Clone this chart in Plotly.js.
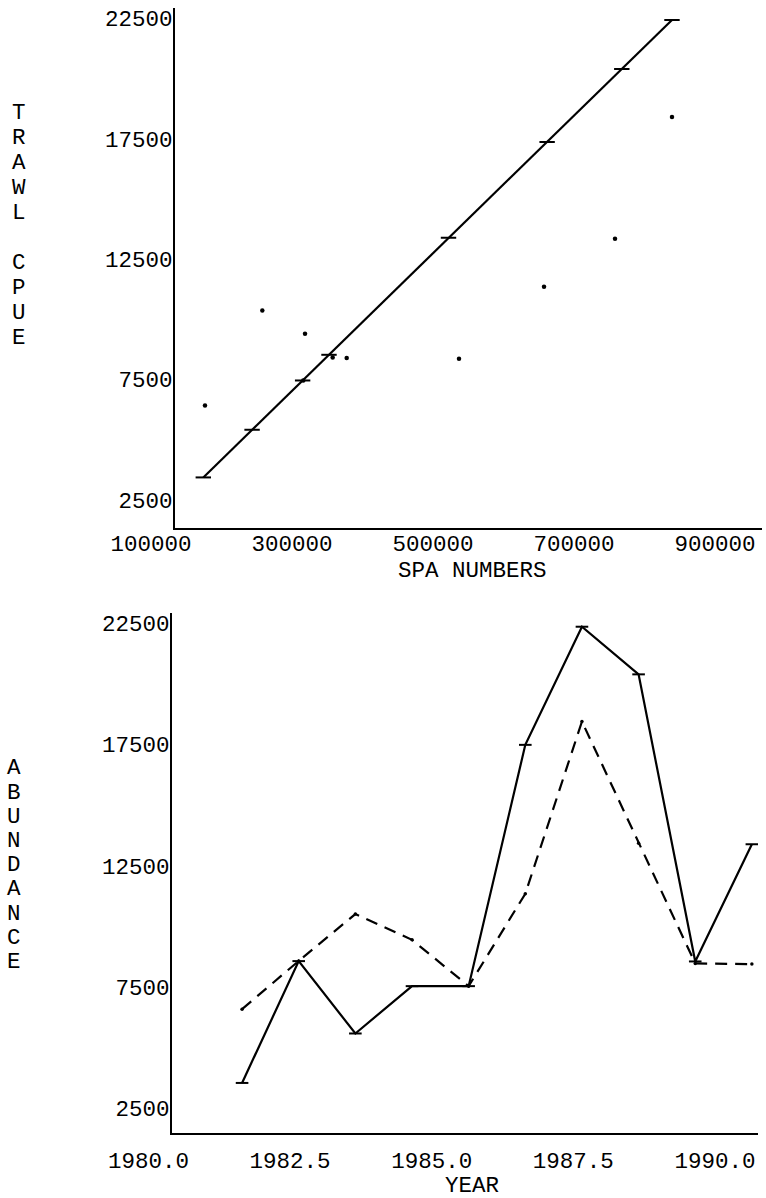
<!DOCTYPE html>
<html>
<head>
<meta charset="utf-8">
<script src="https://cdn.plot.ly/plotly-3.0.1.min.js"></script>
<style>html,body{margin:0;padding:0;background:#fff;}#chart{width:766px;height:1198px;}</style>
</head>
<body>
<div id="chart"></div>
<script>
// ---- Top panel: trawl CPUE vs SPA numbers ----
const spaNumbers = [124100, 205400, 266000, 263500, 305200, 325100, 484400, 605000, 705700, 786500];
const trawlCpue  = [6425, 10367, 9400, 7463, 8417, 8392, 8363, 11350, 13342, 18404];
const fittedSpa  = [121700, 190900, 262600, 300000, 469500, 609400, 715300, 786500];
const fittedCpue = [3438, 5417, 7463, 8529, 13384, 17367, 20396, 22430];
const spaTicks   = [100000, 300000, 500000, 700000, 900000];
const cpueTicks  = [2500, 7500, 12500, 17500, 22500];

// ---- Bottom panel: abundance by year ----
const years = [1981, 1982, 1983, 1984, 1985, 1986, 1987, 1988, 1989, 1990];
const predictedAbundance = [3556, 8574, 5593, 7543, 7543, 17481, 22347, 20385, 8560, 13387];
const observedAbundance  = [6595, 8580, 10513, 9450, 7543, 11350, 18442, 13428, 8480, 8450];
const yearTicks = [1980, 1982.5, 1985, 1987.5, 1990];
const abundanceTicks = [2500, 7500, 12500, 17500, 22500];

const topTitle = "TRAWL CPUE";
const bottomTitle = "ABUNDANCE";
const xTitleTop = "SPA NUMBERS";
const xTitleBottom = "YEAR";

const FONT = {family: "Liberation Mono, Courier New, monospace", size: 22.5, color: "#000"};

// plot area: x 172..762, y 8..1133
const L = 172, R = 762, T = 8, B = 1133;
const px = x => (x - L) / (R - L);
const py = y => (B - y) / (B - T);

const traces = [
  {x: fittedSpa, y: fittedCpue, xaxis: 'x', yaxis: 'y', mode: 'lines+markers',
   line: {color: '#000', width: 2.2},
   marker: {symbol: 'line-ew', size: 11, line: {color: '#000', width: 2}}},
  {x: spaNumbers, y: trawlCpue, xaxis: 'x', yaxis: 'y', mode: 'markers',
   marker: {symbol: 'circle', size: 4.5, color: '#000'}},
  {x: years, y: observedAbundance, xaxis: 'x2', yaxis: 'y2', mode: 'lines+markers',
   line: {color: '#000', width: 2.2, dash: '12px,8px'},
   marker: {symbol: 'circle', size: 3.5, color: '#000'}},
  {x: years, y: predictedAbundance, xaxis: 'x2', yaxis: 'y2', mode: 'lines+markers',
   line: {color: '#000', width: 2.2},
   marker: {symbol: 'line-ew', size: 9, line: {color: '#000', width: 2}}}
];

const axisBase = {
  showline: true, linecolor: '#000', linewidth: 2, showgrid: false, zeroline: false,
  ticks: '', tickfont: FONT, mirror: false, fixedrange: true
};

const annotations = [];
[...topTitle].forEach((ch, i) => {
  if (ch === ' ') return;
  annotations.push({text: ch, xref: 'paper', yref: 'paper', x: px(18.5), y: py(113.3 + i * 25),
    xanchor: 'center', yanchor: 'middle', showarrow: false, font: FONT});
});
[...bottomTitle].forEach((ch, i) => {
  annotations.push({text: ch, xref: 'paper', yref: 'paper', x: px(13.5), y: py(768.3 + i * 24.2),
    xanchor: 'center', yanchor: 'middle', showarrow: false, font: FONT});
});
annotations.push({text: xTitleTop, xref: 'paper', yref: 'paper', x: px(473), y: py(571),
  xanchor: 'center', yanchor: 'middle', showarrow: false, font: FONT});
annotations.push({text: xTitleBottom, xref: 'paper', yref: 'paper', x: px(472), y: py(1186),
  xanchor: 'center', yanchor: 'middle', showarrow: false, font: FONT});

const layout = {
  width: 766, height: 1198,
  margin: {l: L, r: 766 - R, t: T, b: 1198 - B, pad: 0},
  paper_bgcolor: '#fff', plot_bgcolor: '#fff',
  showlegend: false,
  font: FONT,
  xaxis: Object.assign({}, axisBase, {
    domain: [px(175), 1], anchor: 'y', range: [81560, 914184],
    tickvals: spaTicks, ticktext: spaTicks.map(v => String(v)),
    ticklabelshift: -37, ticklabelstandoff: -6
  }),
  yaxis: Object.assign({}, axisBase, {
    domain: [py(527.5), 1], anchor: 'x', range: [1359, 22927],
    tickvals: cpueTicks, ticktext: cpueTicks.map(v => String(v)),
    ticklabelstandoff: -4
  }),
  xaxis2: Object.assign({}, axisBase, {
    domain: [0, px(758)], anchor: 'y2', range: [1979.763, 1990.108],
    tickvals: yearTicks, ticktext: yearTicks.map(v => v.toFixed(1)),
    ticklabelshift: -37, ticklabelstandoff: 6
  }),
  yaxis2: Object.assign({}, axisBase, {
    domain: [0, py(613)], anchor: 'x2', range: [1494, 22912],
    tickvals: abundanceTicks, ticktext: abundanceTicks.map(v => String(v)),
    ticklabelstandoff: -4
  }),
  annotations: annotations
};

Plotly.newPlot('chart', traces, layout, {staticPlot: true, displayModeBar: false});
</script>
</body>
</html>
